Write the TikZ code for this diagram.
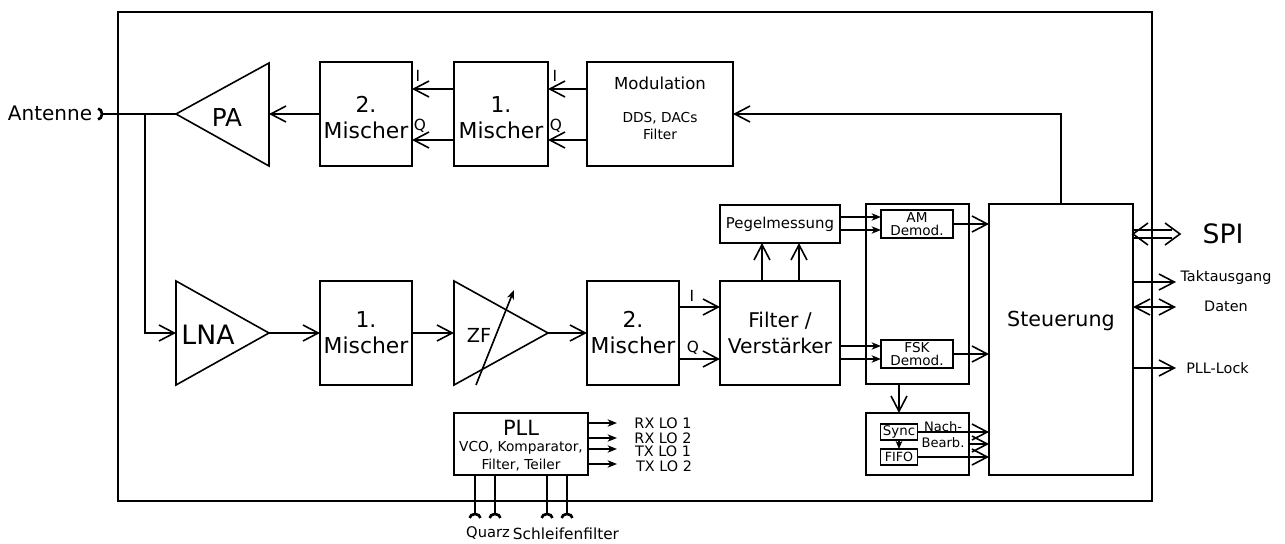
\documentclass[tikz,border=0pt]{standalone}
\usepackage{fontspec}
\setmainfont{DejaVu Sans}
\usetikzlibrary{arrows.meta}
\newcommand{\lowered}{\rule{0pt}{17pt}}
\tikzset{
  box/.style 2 args={draw,line width=1.2pt,inner sep=0pt,outer sep=0pt,align=center,minimum width=#1*0.75pt,minimum height=#2*0.75pt},
  wire/.style={line width=1.2pt},
  barb/.style={wire,-{Straight Barb[length=11.5pt,width=12pt]}},
  barbboth/.style={wire,{Straight Barb[length=11.5pt,width=12pt]}-{Straight Barb[length=11.5pt,width=12pt]}},
  tiny/.style={wire,-{Stealth[length=7pt,width=5.5pt,inset=2pt]}},
  pinend/.style={wire,-{Arc Barb[reversed,length=4pt,width=10pt,line width=2pt]}},
  txt/.style={inner sep=0pt,outer sep=0pt,align=center},
  large/.style={txt,font=\fontsize{20}{24}\selectfont},
  mixer/.style={font=\fontsize{16.4}{19.5}\selectfont},
  mid/.style={txt,font=\fontsize{15.5}{19}\selectfont},
  small/.style={txt,font=\fontsize{10.8}{12}\selectfont},
  iq/.style={txt,font=\fontsize{11.5}{12}\selectfont},
  demodbox/.style={font=\fontsize{10.2}{10}\selectfont}
}
\begin{document}
\begin{tikzpicture}[x=0.75pt,y=0.75pt,yscale=-1,xscale=1]
  \useasboundingbox (0,0) rectangle (1285,543);
  %Outer frame
  \node (frame) [box={1034}{489}] at (635,256.5) {};
  %Upper row
  \node (mixtwotx) [box={92}{104},mixer] at (366,114) {\lowered 2.\\Mischer};
  \node (mixonetx) [box={94}{104},mixer] at (501,114) {\lowered 1.\\Mischer};
  \node (modul) [box={146}{104}] at (660,114) {};
  %Lower row
  \node (mixonerx) [box={92}{104},mixer] at (366,333) {1.\\Mischer};
  \node (mixtworx) [box={92}{104},mixer] at (633,333) {2.\\Mischer};
  \node (filt) [box={120}{104},mixer,font=\fontsize{15.2}{19.5}\selectfont] at (780,333) {Filter /\\Verstärker};
  \node (pegel) [box={120}{38},font=\fontsize{11.2}{13}\selectfont] at (780,224) {Pegelmessung};
  %Demodulation
  \node (demod) [box={103}{180}] at (917.5,294) {};
  \node (am) [box={72}{28},demodbox] at (917,224) {AM\\Demod.};
  \node (fsk) [box={72}{28},demodbox] at (917,354) {FSK\\Demod.};
  \node (post) [box={103}{62}] at (917.5,444) {};
  \node (sync) [box={37}{16},font=\fontsize{10}{10}\selectfont] at (899,432) {Sync};
  \node (fifo) [box={37}{16},font=\fontsize{9.5}{10}\selectfont] at (899,457) {FIFO};
  %Control and PLL
  \node (ctrl) [box={144}{271}] at (1061,339.5) {};
  \node (pll) [box={134}{62}] at (521,444) {};
  %Triangles
  \coordinate (patip) at (176,114);
  \coordinate (pabase) at (269,114);
  \coordinate (lnatip) at (269,333);
  \coordinate (lnabase) at (176,333);
  \coordinate (zfbase) at (454,333);
  \coordinate (zftip) at (548,333);
  \draw [wire,line join=miter] (269,63) -- (269,166) -- (patip) -- cycle ;
  \draw [wire,line join=miter] (176,281) -- (176,385) -- (lnatip) -- cycle ;
  \draw [wire,line join=miter] (454,281) -- (454,385) -- (zftip) -- cycle ;
  %Free ends
  \coordinate (ant) at (98,114);
  \coordinate (split) at (145,114);
  \coordinate (zffrom) at (476,385);
  \coordinate (zfto) at (514,290);
  \coordinate (spiupper) at (1172,230);
  \coordinate (spilower) at (1172,238);
  \coordinate (spiright) at (1180,234);
  \coordinate (taktend) at (1176,282);
  \coordinate (datenend) at (1176,307);
  \coordinate (lockend) at (1176,368);
  \coordinate (rxa) at (617,423);
  \coordinate (rxb) at (617,438);
  \coordinate (txa) at (617,449);
  \coordinate (txb) at (617,464);
  \coordinate (quarza) at (475,518);
  \coordinate (quarzb) at (495,518);
  \coordinate (loopa) at (547,518);
  \coordinate (loopb) at (567,518);
  %Straight Lines
  \draw [pinend] (patip) -- (ant) ;
  \draw [barb] (split) |- (lnabase) ;
  \draw [barb] (mixtwotx.west) -- (pabase) ;
  \draw [barb] (mixonetx.west |- 0,89) -- (mixtwotx.east |- 0,89) ;
  \draw [barb] (mixonetx.west |- 0,140) -- (mixtwotx.east |- 0,140) ;
  \draw [barb] (modul.west |- 0,89) -- (mixonetx.east |- 0,89) ;
  \draw [barb] (modul.west |- 0,140) -- (mixonetx.east |- 0,140) ;
  \draw [barb] (ctrl.north) |- (modul.east) ;
  \draw [barb] (lnatip) -- (mixonerx.west) ;
  \draw [barb] (mixonerx.east) -- (zfbase) ;
  \draw [barb] (zftip) -- (mixtworx.west) ;
  \draw [barb] (mixtworx.east |- 0,307) -- (filt.west |- 0,307) ;
  \draw [barb] (mixtworx.east |- 0,359) -- (filt.west |- 0,359) ;
  \draw [barb] (filt.north -| 762,0) -- (pegel.south -| 762,0) ;
  \draw [barb] (filt.north -| 799,0) -- (pegel.south -| 799,0) ;
  \draw [tiny] (pegel.east |- 0,217) -- (am.west |- 0,217) ;
  \draw [tiny] (pegel.east |- 0,230) -- (am.west |- 0,230) ;
  \draw [tiny] (filt.east |- 0,346) -- (fsk.west |- 0,346) ;
  \draw [tiny] (filt.east |- 0,359) -- (fsk.west |- 0,359) ;
  \draw [barb] (am.east) -- (am.east -| ctrl.west) ;
  \draw [barb] (fsk.east) -- (fsk.east -| ctrl.west) ;
  \draw [barb] (demod.south -| sync.south) -- (post.north -| sync.south) ;
  \draw [barb] (sync.east) -- (sync.east -| ctrl.west) ;
  \draw [barb] (post.east) -- (post.east -| ctrl.west) ;
  \draw [barb] (fifo.east) -- (fifo.east -| ctrl.west) ;
  \draw [wire,-{Stealth[length=6pt,width=5pt,inset=1.5pt]}] (sync.south) -- (fifo.north) ;
  \draw [wire,-{Stealth[length=7pt,width=5.5pt,inset=2pt]}] (zffrom) -- (zfto) ;
  %SPI double line with its two heads
  \draw [wire] (ctrl.east |- spiupper) -- (spiupper) ;
  \draw [wire] (ctrl.east |- spilower) -- (spilower) ;
  \draw [wire,shift={(ctrl.east |- spiright)}] (15,-11) -- (0,0) -- (15,11) ;
  \draw [wire,shift={(spiright)}] (-15,-11) -- (0,0) -- (-15,11) ;
  \draw [barb] (ctrl.east |- taktend) -- (taktend) ;
  \draw [barbboth] (ctrl.east |- datenend) -- (datenend) ;
  \draw [barb] (ctrl.east |- lockend) -- (lockend) ;
  \draw [tiny] (pll.east |- rxa) -- (rxa) ;
  \draw [tiny] (pll.east |- rxb) -- (rxb) ;
  \draw [tiny] (pll.east |- txa) -- (txa) ;
  \draw [tiny] (pll.east |- txb) -- (txb) ;
  \draw [pinend] (pll.south -| quarza) -- (quarza) ;
  \draw [pinend] (pll.south -| quarzb) -- (quarzb) ;
  \draw [pinend] (pll.south -| loopa) -- (loopa) ;
  \draw [pinend] (pll.south -| loopb) -- (loopb) ;
  % Text Node
  \node (antlabel) [mid,font=\fontsize{15}{18}\selectfont] at (50,113) {Antenne};
  \node (palabel) [large,font=\fontsize{18.5}{22}\selectfont] at (227,118) {PA};
  \node (lnalabel) [large] at (208,335) {LNA};
  \node (zflabel) [mid,font=\fontsize{14.5}{18}\selectfont] at (479,335) {ZF};
  \node (modlabel) [txt,font=\fontsize{12.4}{15}\selectfont] at (660,83) {Modulation};
  \node (ddslabel) [txt,font=\fontsize{10.3}{12.8}\selectfont] at (660,126) {DDS, DACs\\Filter};
  \node (ctrllabel) [mid] at (1061,321) {Steuerung};
  \node (pllname) [txt,font=\fontsize{15.7}{18}\selectfont] at (521,428) {PLL};
  \node (plltext) [txt,font=\fontsize{10.3}{13.2}\selectfont] at (521,456) {VCO, Komparator,\\Filter, Teiler};
  \node (nachlabel) [txt,font=\fontsize{9.8}{12}\selectfont] at (943,435) {Nach-\\Bearb.};
  \node (ilabela) [iq] at (418,76) {I};
  \node (qlabela) [iq] at (420,126) {Q};
  \node (ilabelb) [iq] at (555,76) {I};
  \node (qlabelb) [iq] at (556,126) {Q};
  \node (ilabelc) [iq] at (692,296) {I};
  \node (qlabelc) [iq] at (693,348) {Q};
  \node (rxalabel) [small] at (663,423) {RX LO 1};
  \node (rxblabel) [small] at (663,438) {RX LO 2};
  \node (txalabel) [small] at (663,451) {TX LO 1};
  \node (txblabel) [small] at (664,466) {TX LO 2};
  \node (quarzlabel) [small,font=\fontsize{11}{13}\selectfont] at (488,533) {Quarz};
  \node (looplabel) [small,font=\fontsize{11.5}{13}\selectfont] at (566,534) {Schleifenfilter};
  \node (spilabel) [large] at (1223,234) {SPI};
  \node (taktlabel) [small] at (1226,278) {Taktausgang};
  \node (datenlabel) [small] at (1226,306) {Daten};
  \node (locklabel) [small] at (1217.5,368) {PLL-Lock};
\end{tikzpicture}
\end{document}
